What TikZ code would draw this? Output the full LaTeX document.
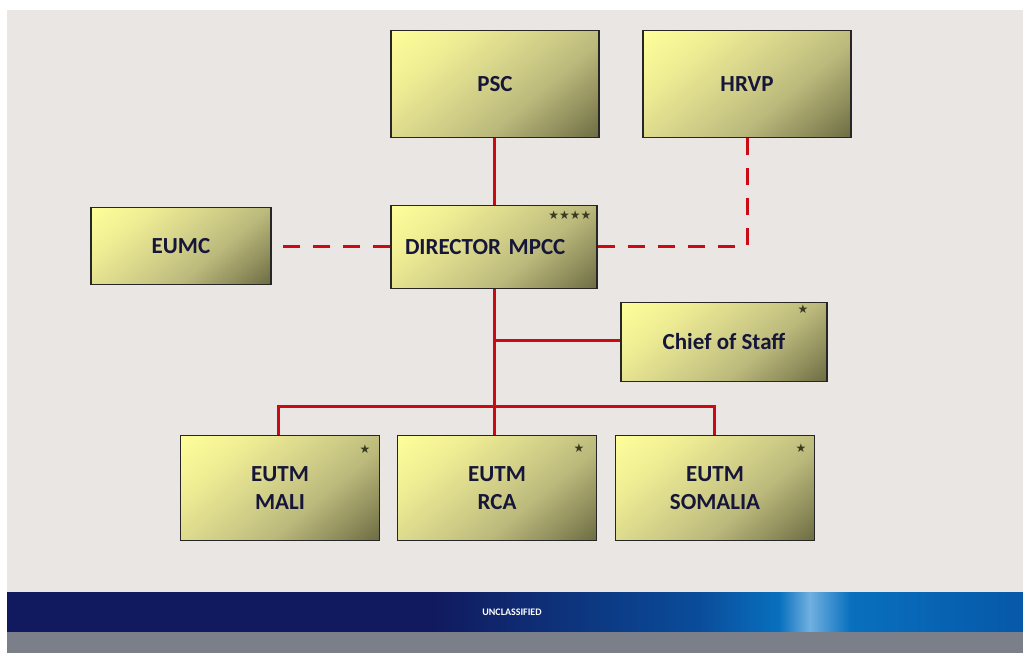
\documentclass[tikz,border=0pt]{standalone}
\usepackage{fontspec}
\setmainfont{Carlito}
\newfontfamily\symfont{DejaVu Sans}
\definecolor{bgA}{HTML}{EAE6E3}
\definecolor{bottomA}{HTML}{7B7F8A}
\definecolor{navyA}{HTML}{111A5E}
\definecolor{blueA}{HTML}{0A4C9A}
\definecolor{blueB}{HTML}{0870BE}
\definecolor{blueHL}{HTML}{70B0E0}
\definecolor{blueC}{HTML}{0758A8}
\definecolor{yelA}{HTML}{FFFF9A}
\definecolor{yelB}{HTML}{F0EE94}
\definecolor{yelC}{HTML}{D6D48A}
\definecolor{yelD}{HTML}{BCBA7C}
\definecolor{yelE}{HTML}{908E5C}
\definecolor{olvA}{HTML}{66663F}
\definecolor{redA}{HTML}{CC0A14}
\definecolor{txtA}{HTML}{16163A}
\definecolor{starA}{HTML}{3A3A22}
\pgfdeclarehorizontalshading{bannershade}{100bp}{color(0bp)=(navyA); color(25bp)=(navyA); color(46bp)=(navyA); color(59bp)=(blueA); color(63bp)=(blueB); color(64.5bp)=(blueHL); color(66.5bp)=(blueB); color(75bp)=(blueC); color(100bp)=(blueC)}
\pgfdeclareverticalshading{boxshade}{100bp}{color(0bp)=(olvA); color(13bp)=(olvA); color(25bp)=(yelE); color(39bp)=(yelD); color(54bp)=(yelC); color(70bp)=(yelB); color(86bp)=(yelA); color(100bp)=(yelA)}
\tikzset{
  orgbox/.style={draw=black!85, line width=1.5pt, shading=boxshade, shading angle=40, inner sep=0pt, text=txtA, font=\fontsize{23}{28}\selectfont\bfseries, align=center},
  redline/.style={draw=redA, line width=3pt},
  reddash/.style={draw=redA, line width=3pt, dash pattern=on 17pt off 13pt},
  starmark/.style={text=starA, font=\symfont\fontsize{12}{12}\selectfont, inner sep=0pt}
}
\begin{document}
\begin{tikzpicture}[x=1pt,y=-1pt]
\useasboundingbox (0,0) rectangle (1023,653);
\fill[white] (0,0) rectangle (1023,653);
\fill[bgA] (7,10) rectangle (1023,592);
\shade[shading=bannershade] (7,592) rectangle (1023,632);
\fill[bottomA] (7,632) rectangle (1023,653);
\node[text=white, font=\fontsize{10}{10}\selectfont\bfseries] (uncl) at (512,612) {UNCLASSIFIED};

\node[orgbox, minimum width=208pt, minimum height=107pt] (psc) at (495,84) {PSC};
\node[orgbox, minimum width=208pt, minimum height=107pt] (hrvp) at (747,84) {HRVP};
\node[orgbox, minimum width=180pt, minimum height=77pt] (eumc) at (181,246) {EUMC};
\node[orgbox, minimum width=206pt, minimum height=83pt, text width=178pt, align=left, inner xsep=14pt] (dir) at (494,247) {DIRECTOR MPCC};
\node[orgbox, minimum width=206pt, minimum height=79pt] (cos) at (724,342) {Chief of Staff};
\node[orgbox, minimum width=199pt, minimum height=105pt] (mali) at (280,488) {EUTM\\MALI};
\node[orgbox, minimum width=199pt, minimum height=105pt] (rca) at (497,488) {EUTM\\RCA};
\node[orgbox, minimum width=199pt, minimum height=105pt] (som) at (715,488) {EUTM\\SOMALIA};

\node[starmark] (s1) at (570,215) {★★★★};
\node[starmark] (s2) at (803,309) {★};
\node[starmark] (s3) at (365,449) {★};
\node[starmark] (s4) at (579,448) {★};
\node[starmark] (s5) at (801,448) {★};

\coordinate (j1) at (494,340);
\coordinate (j2) at (494,406);
\coordinate (jl) at (278,406);
\coordinate (jr) at (714,406);
\coordinate (hc) at (747,246);

\draw[redline] (psc.south -| j1) -- (dir.north -| j1);
\draw[redline] (dir.south -| j1) -- (rca.north -| j1);
\draw[redline] (j1) -- (cos.west |- j1);
\draw[redline, line cap=butt] (mali.north -| jl) -- (jl) -- (jr) -- (som.north -| jr);
\draw[reddash] (dir.west |- eumc) -- (eumc.east);
\draw[reddash] (hrvp.south -| hc) -- (hc) -- (dir.east |- hc);
\end{tikzpicture}
\end{document}
